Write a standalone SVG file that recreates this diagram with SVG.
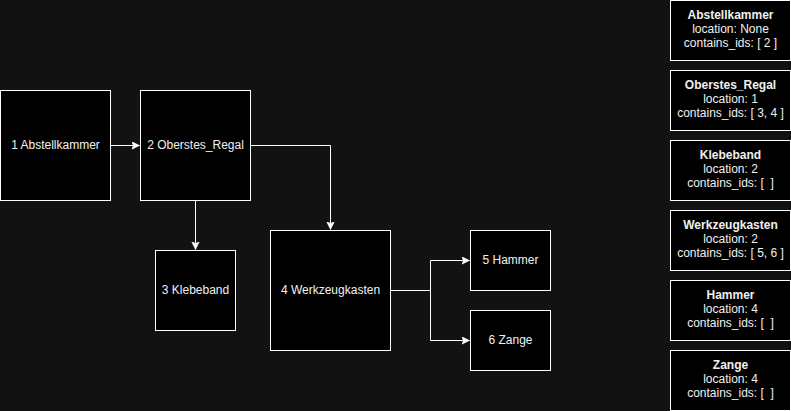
<svg xmlns="http://www.w3.org/2000/svg" width="791" height="411" viewBox="0 0 791 411">
<style>
.bg{fill:#121212}
.box{fill:#000000;stroke:#ffffff;stroke-width:1}
.lbl{font-family:"Liberation Sans",Arial,Helvetica,sans-serif;font-size:12px;fill:#f0f0f0;text-anchor:middle;dominant-baseline:central}
.b{font-weight:bold}
.edge{fill:none;stroke:#ffffff;stroke-width:1}
</style>
<defs>
<marker id="arr" markerWidth="10" markerHeight="10" refX="8" refY="4" orient="auto" markerUnits="userSpaceOnUse">
<path d="M0,0 L8,4 L0,8 L2,4 Z" fill="#ffffff" stroke="#ffffff" stroke-width="0.5"/>
</marker>
</defs>
<rect class="bg" x="0" y="0" width="791" height="411"/>
<g id="connectors">
<path class="edge" d="M110.5,145.5 L139.5,145.5" marker-end="url(#arr)"/>
<path class="edge" d="M195.5,200.5 L195.5,249.5" marker-end="url(#arr)"/>
<path class="edge" d="M250.5,145.5 L330.5,145.5 L330.5,229.5" marker-end="url(#arr)"/>
<path class="edge" d="M390.5,290.5 L430.5,290.5 L430.5,260.5 L469.5,260.5" marker-end="url(#arr)"/>
<path class="edge" d="M390.5,290.5 L430.5,290.5 L430.5,340.5 L469.5,340.5" marker-end="url(#arr)"/>
</g>
<g id="node1"><rect class="box" x="0.5" y="90.5" width="110" height="110"/><text class="lbl" x="55.5" y="145">1 Abstellkammer</text></g>
<g id="node2"><rect class="box" x="140.5" y="90.5" width="110" height="110"/><text class="lbl" x="195.5" y="145">2 Oberstes_Regal</text></g>
<g id="node3"><rect class="box" x="155.5" y="250.5" width="80" height="80"/><text class="lbl" x="195.5" y="290">3 Klebeband</text></g>
<g id="node4"><rect class="box" x="270.5" y="230.5" width="120" height="120"/><text class="lbl" x="330.5" y="290">4 Werkzeugkasten</text></g>
<g id="node5"><rect class="box" x="470.5" y="230.5" width="80" height="60"/><text class="lbl" x="510.5" y="260">5 Hammer</text></g>
<g id="node6"><rect class="box" x="470.5" y="310.5" width="80" height="60"/><text class="lbl" x="510.5" y="340">6 Zange</text></g>
<g id="info1"><rect class="box" x="670.5" y="0.5" width="120" height="60"/><text class="lbl b" x="730.5" y="15">Abstellkammer</text><text class="lbl" x="730.5" y="29">location: None</text><text class="lbl" x="730.5" y="43">contains_ids: [ 2 ]</text></g>
<g id="info2"><rect class="box" x="670.5" y="70.5" width="120" height="60"/><text class="lbl b" x="730.5" y="85">Oberstes_Regal</text><text class="lbl" x="730.5" y="99">location: 1</text><text class="lbl" x="730.5" y="113">contains_ids: [ 3, 4 ]</text></g>
<g id="info3"><rect class="box" x="670.5" y="140.5" width="120" height="60"/><text class="lbl b" x="730.5" y="155">Klebeband</text><text class="lbl" x="730.5" y="169">location: 2</text><text class="lbl" x="730.5" y="183" xml:space="preserve">contains_ids: [  ]</text></g>
<g id="info4"><rect class="box" x="670.5" y="210.5" width="120" height="60"/><text class="lbl b" x="730.5" y="225">Werkzeugkasten</text><text class="lbl" x="730.5" y="239">location: 2</text><text class="lbl" x="730.5" y="253">contains_ids: [ 5, 6 ]</text></g>
<g id="info5"><rect class="box" x="670.5" y="280.5" width="120" height="60"/><text class="lbl b" x="730.5" y="295">Hammer</text><text class="lbl" x="730.5" y="309">location: 4</text><text class="lbl" x="730.5" y="323" xml:space="preserve">contains_ids: [  ]</text></g>
<g id="info6"><rect class="box" x="670.5" y="350.5" width="120" height="60"/><text class="lbl b" x="730.5" y="365">Zange</text><text class="lbl" x="730.5" y="379">location: 4</text><text class="lbl" x="730.5" y="393" xml:space="preserve">contains_ids: [  ]</text></g>
</svg>
